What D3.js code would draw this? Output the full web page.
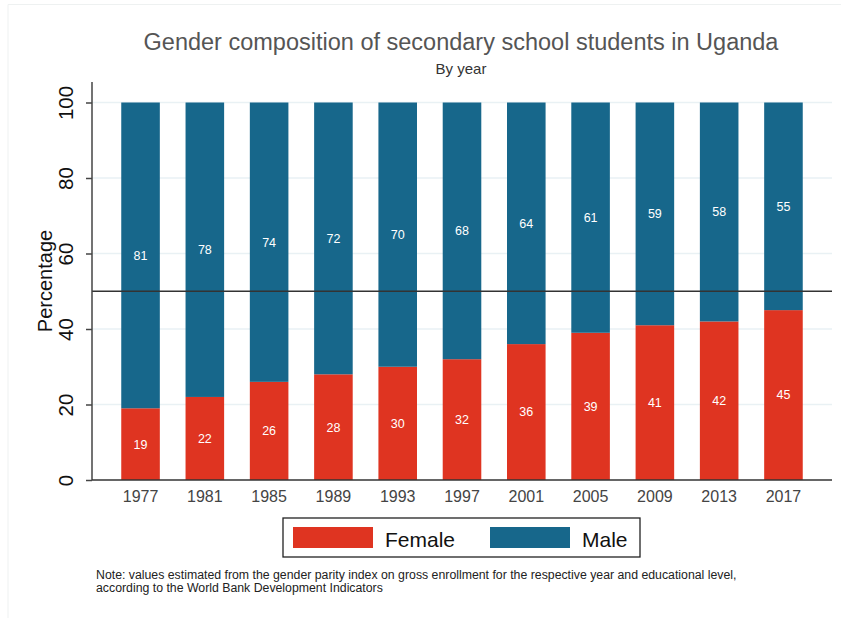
<!DOCTYPE html>
<html>
<head>
<meta charset="utf-8">
<script src="https://cdn.jsdelivr.net/npm/d3@7"></script>
<style>
  body { margin: 0; background: #fff; }
  svg { display: block; font-family: "Liberation Sans", Arial, sans-serif; }
</style>
</head>
<body>
<script>
(function(){

// data
var years = ["1977", "1981", "1985", "1989", "1993", "1997", "2001", "2005", "2009", "2013", "2017"];
var female = [19, 22, 26, 28, 30, 32, 36, 39, 41, 42, 45];
var male = [81, 78, 74, 72, 70, 68, 64, 61, 59, 58, 55];
var yTicks = [0, 20, 40, 60, 80, 100];
var seriesNames = ["Female", "Male"];
var seriesColors = ["#df3421", "#17678b"];

var width = 841, height = 618;
var left = 92, right = 832, top = 82, bottom = 480;

var svg = d3.select("body").append("svg")
    .attr("width", width)
    .attr("height", height);

// faint outer frame
svg.append("path")
    .attr("d", "M8,618 V4.5 H841")
    .attr("fill", "none")
    .attr("stroke", "#eef1f1")
    .attr("stroke-width", 1);

var x = d3.scaleBand()
    .domain(years)
    .range([left, right])
    .paddingInner(0.4)
    .paddingOuter(0.455);

var y = d3.scaleLinear()
    .domain([0, 100])
    .range([bottom, 102.5]);

// gridlines
svg.append("g").selectAll("line")
    .data(yTicks.slice(1))
    .enter().append("line")
    .attr("x1", left).attr("x2", right)
    .attr("y1", function(d){ return y(d); })
    .attr("y2", function(d){ return y(d); })
    .attr("stroke", "#e9f1f4")
    .attr("stroke-width", 1.5);

// stacked data
var rows = years.map(function(yr, i){
    return { year: yr, Female: female[i], Male: male[i] };
});
var stack = d3.stack().keys(seriesNames)(rows);

var groups = svg.append("g").selectAll("g")
    .data(stack)
    .enter().append("g")
    .attr("fill", function(d, i){ return seriesColors[i]; });

groups.selectAll("rect")
    .data(function(d){ return d; })
    .enter().append("rect")
    .attr("x", function(d){ return x(d.data.year); })
    .attr("width", x.bandwidth())
    .attr("y", function(d){ return y(d[1]); })
    .attr("height", function(d){ return y(d[0]) - y(d[1]); });

// value labels centred in each segment
groups.selectAll("text")
    .data(function(d){ return d; })
    .enter().append("text")
    .attr("x", function(d){ return x(d.data.year) + x.bandwidth() / 2; })
    .attr("y", function(d){ return y((d[0] + d[1]) / 2); })
    .attr("dy", "0.35em")
    .attr("text-anchor", "middle")
    .attr("fill", "#fff")
    .attr("font-size", "12.5px")
    .text(function(d){ return d[1] - d[0]; });

// reference line at 50
svg.append("line")
    .attr("x1", left).attr("x2", right)
    .attr("y1", y(50)).attr("y2", y(50))
    .attr("stroke", "#333")
    .attr("stroke-width", 1.3);

// y axis
var yAxis = svg.append("g")
    .attr("transform", "translate(" + left + ",0)")
    .call(d3.axisLeft(y).tickValues(yTicks).tickSize(6).tickPadding(8));
yAxis.select(".domain").attr("d", "M0," + top + "V" + bottom)
    .attr("stroke", "#444").attr("stroke-width", 1.5);
yAxis.selectAll(".tick line").attr("stroke", "#444").attr("stroke-width", 1.5);
yAxis.selectAll(".tick text")
    .attr("font-size", "20.5px")
    .attr("fill", "#111")
    .attr("x", null).attr("dy", null)
    .attr("text-anchor", "middle")
    .attr("transform", "translate(-27,0) rotate(-90)")
    .attr("dominant-baseline", "central");

// x axis
var xAxis = svg.append("g")
    .attr("transform", "translate(0," + bottom + ")")
    .call(d3.axisBottom(x).tickSize(0).tickPadding(11));
xAxis.select(".domain").attr("d", "M" + left + ",0H" + right)
    .attr("stroke", "#333").attr("stroke-width", 1.5);
xAxis.selectAll(".tick text")
    .attr("font-size", "16px")
    .attr("fill", "#444");

// axis title
svg.append("text")
    .attr("transform", "translate(45,281) rotate(-90)")
    .attr("text-anchor", "middle")
    .attr("dominant-baseline", "central")
    .attr("font-size", "20px")
    .attr("fill", "#111")
    .text("Percentage");

// titles
svg.append("text")
    .attr("x", 461).attr("y", 50)
    .attr("text-anchor", "middle")
    .attr("font-size", "23.5px")
    .attr("fill", "#555")
    .text("Gender composition of secondary school students in Uganda");

svg.append("text")
    .attr("x", 461).attr("y", 74)
    .attr("text-anchor", "middle")
    .attr("font-size", "15px")
    .attr("fill", "#333")
    .text("By year");

// legend
var legend = svg.append("g");
legend.append("rect")
    .attr("x", 283).attr("y", 518)
    .attr("width", 357).attr("height", 39)
    .attr("fill", "#fff")
    .attr("stroke", "#222")
    .attr("stroke-width", 1.3);

var legendX = [293, 490];
var items = legend.selectAll("g.item")
    .data(seriesNames)
    .enter().append("g")
    .attr("class", "item");
items.append("rect")
    .attr("x", function(d, i){ return legendX[i]; })
    .attr("y", 527)
    .attr("width", 80).attr("height", 21)
    .attr("fill", function(d, i){ return seriesColors[i]; });
items.append("text")
    .attr("x", function(d, i){ return legendX[i] + 92; })
    .attr("y", 547)
    .attr("font-size", "21px")
    .attr("fill", "#111")
    .text(function(d){ return d; });

// note
var note = svg.append("text")
    .attr("x", 96).attr("y", 579)
    .attr("font-size", "12.3px")
    .attr("fill", "#222");
note.append("tspan")
    .attr("x", 96)
    .text("Note: values estimated from the gender parity index on gross enrollment for the respective year and educational level,");
note.append("tspan")
    .attr("x", 96).attr("dy", 13)
    .text("according to the World Bank Development Indicators");

})();
</script>
</body>
</html>
